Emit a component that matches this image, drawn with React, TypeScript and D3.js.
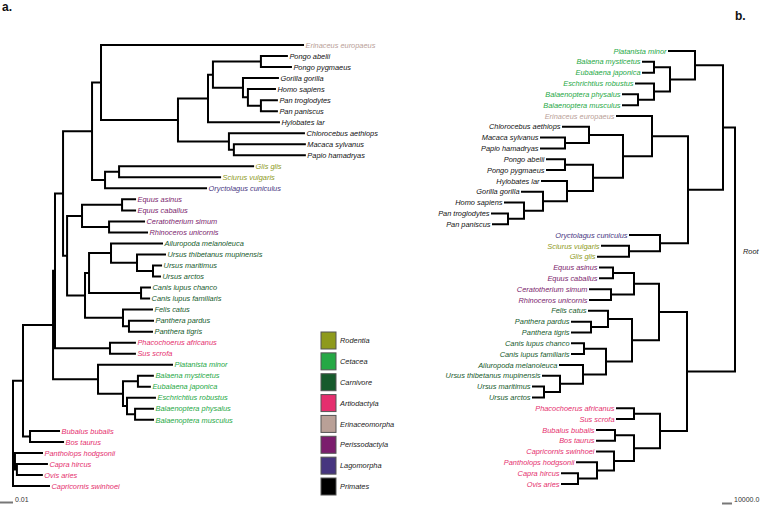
import React from "react";
import * as d3 from "d3";

// ---------- DATA ----------
// Left tree (a): maximum-likelihood branch lengths (substitutions/site)
const L_PRIMATES =
  "((((Pongo abelii:0.0200,Pongo pygmaeus:0.0231):0.0369,(Gorilla gorilla:0.0269,(Homo sapiens:0.0208,(Pan troglodytes:0.0123,Pan paniscus:0.0123):0.0100):0.0038):0.0231):0.0038,Hylobates lar:0.0546):0.0231,(Chlorocebus aethiops:0.0577,(Macaca sylvanus:0.0546,Papio hamadryas:0.0546):0.0038):0.0392)";
const L_EUARCH =
  "((Erinaceus europaeus:0.1554," + L_PRIMATES + ":0.0592):0.0069,((Glis glis:0.1031,Sciurus vulgaris:0.0777):0.0108,Oryctolagus cuniculus:0.0777):0.0100)";
const L_LAUR =
  "(((Equus asinus:0.0100,Equus caballus:0.0100):0.0308,(Ceratotherium simum:0.0269,Rhinoceros unicornis:0.0292):0.0208):0.0115,(((Ailuropoda melanoleuca:0.0392,(Ursus thibetanus mupinensis:0.0215,(Ursus maritimus:0.0062,Ursus arctos:0.0054):0.0123):0.0200):0.0169,(Canis lupus chanco:0.0069,Canis lupus familiaris:0.0062):0.0400):0.0031,(Felis catus:0.0223,(Panthera pardus:0.0185,Panthera tigris:0.0177):0.0046):0.0292):0.0138)";
const L_SUIDAE = "(Phacochoerus africanus:0.0192,Sus scrofa:0.0192)";
const L_CETACEA =
  "(Platanista minor:0.0569,((Balaena mysticetus:0.0115,Eubalaena japonica:0.0092):0.0115,(Eschrichtius robustus:0.0215,(Balaenoptera physalus:0.0138,Balaenoptera musculus:0.0138):0.0062):0.0031):0.0192)";
const L_BOVINI = "(Bubalus bubalis:0.0223,Bos taurus:0.0254)";
const L_N63 = "(" + L_EUARCH + ":0.0223," + L_LAUR + ":0.0031)";
const L_P = "(" + L_N63 + ":0.0062," + L_SUIDAE + ":0.0423)";
const L_Q = "(" + L_P + ":0.0015," + L_CETACEA + ":0.0346)";
const L_N23 = "(" + L_Q + ":0.0231," + L_BOVINI + ":0.0054)";
const LEFT_NEWICK =
  "(" + L_N23 + ":0.0077,(Pantholops hodgsonii:0.0208,(Capra hircus:0.0231,Ovis aries:0.0192):0.0015):0.0015,Capricornis swinhoei:0.0277);";

// Right tree (b): time-scaled branch lengths
const R_CETACEA =
  "(Platanista minor:26000,((Balaena mysticetus:11000,Eubalaena japonica:11000):16000,(Eschrichtius robustus:18000,(Balaenoptera physalus:15000,Balaenoptera musculus:15000):16000):16000):25000)";
const R_PRIMATES =
  "((Chlorocebus aethiops:26000,(Macaca sylvanus:24000,Papio hamadryas:24000):24000):34000,((Pongo abelii:18000,Pongo pygmaeus:18000):28000,(Hylobates lar:25000,(Gorilla gorilla:21000,(Homo sapiens:19000,(Pan troglodytes:16000,Pan paniscus:15000):16000):19000):24000):26000):30000)";
const R_EUARCH =
  "((Erinaceus europaeus:35000," + R_PRIMATES + ":29000):36000,(Oryctolagus cuniculus:30000,(Sciurus vulgaris:27000,Glis glis:31000):31000):28000)";
const R_PERISSO =
  "((Equus asinus:13000,Equus caballus:13000):21000,(Ceratotherium simum:21000,Rhinoceros unicornis:21000):23000)";
const R_CARNIVORA =
  "((Felis catus:19000,(Panthera pardus:19000,Panthera tigris:19000):17000):24000,((Canis lupus chanco:12000,Canis lupus familiaris:12000):22000,(Ailuropoda melanoleuca:23000,(Ursus thibetanus mupinensis:17000,(Ursus maritimus:11000,Ursus arctos:11000):16000):23000):23000):26000)";
const R_ARTIO =
  "((Phacochoerus africanus:17000,Sus scrofa:17000):26000,((Bubalus bubalis:18000,Bos taurus:18000):19000,(Capricornis swinhoei:17000,(Pantholops hodgsonii:20000,(Capra hircus:16000,Ovis aries:16000):19000):17000):20000):26000)";
const RIGHT_NEWICK =
  "((" + R_CETACEA + ":28000," + R_EUARCH + ":35000):12000,((" + R_PERISSO + ":25000," + R_CARNIVORA + ":27000):28000," + R_ARTIO + ":27000):48000);";

// Orders and colours
const LEGEND_ORDERS = ["Rodentia", "Cetacea", "Carnivore", "Artiodactyla", "Erinaceomorpha", "Perissodactyla", "Lagomorpha", "Primates"];
const LEGEND_COLORS = ["#8e9a1c", "#25a845", "#165a2c", "#e52f6e", "#b9a097", "#7b1d6d", "#46357f", "#000000"];
const RODENTIA = ["Glis glis", "Sciurus vulgaris"];
const CETACEA = ["Platanista minor", "Balaena mysticetus", "Eubalaena japonica", "Eschrichtius robustus", "Balaenoptera physalus", "Balaenoptera musculus"];
const CARNIVORE = ["Ailuropoda melanoleuca", "Ursus thibetanus mupinensis", "Ursus maritimus", "Ursus arctos", "Canis lupus chanco", "Canis lupus familiaris", "Felis catus", "Panthera pardus", "Panthera tigris"];
const ARTIODACTYLA = ["Phacochoerus africanus", "Sus scrofa", "Bubalus bubalis", "Bos taurus", "Pantholops hodgsonii", "Capra hircus", "Ovis aries", "Capricornis swinhoei"];
const ERINACEOMORPHA = ["Erinaceus europaeus"];
const PERISSODACTYLA = ["Equus asinus", "Equus caballus", "Ceratotherium simum", "Rhinoceros unicornis"];
const LAGOMORPHA = ["Oryctolagus cuniculus"];
const ORDER_MEMBERS = [RODENTIA, CETACEA, CARNIVORE, ARTIODACTYLA, ERINACEOMORPHA, PERISSODACTYLA, LAGOMORPHA];

const SCALE_LEFT = [0.01];
const SCALE_RIGHT = [10000];

// ---------- helpers ----------
type NNode = { name: string; length: number; children?: NNode[] };

function parseNewick(s: string): NNode {
  let i = 0;
  function node(): NNode {
    const n: NNode = { name: "", length: 0 };
    if (s[i] === "(") {
      i++;
      n.children = [node()];
      while (s[i] === ",") {
        i++;
        n.children.push(node());
      }
      i++;
    }
    let name = "";
    while (i < s.length && !":,();".includes(s[i])) name += s[i++];
    n.name = name.trim();
    if (s[i] === ":") {
      i++;
      let num = "";
      while (i < s.length && !",();".includes(s[i])) num += s[i++];
      n.length = parseFloat(num);
    }
    return n;
  }
  return node();
}

function colorOf(name: string) {
  for (let k = 0; k < ORDER_MEMBERS.length; k++) if (ORDER_MEMBERS[k].includes(name)) return LEGEND_COLORS[k];
  return "#111";
}

function layout(newick: string, yRange: [number, number], xScale: (v: number) => number) {
  const root: any = d3.hierarchy(parseNewick(newick));
  root.eachBefore((d: any) => {
    d.dist = d.parent ? d.parent.dist + d.data.length : 0;
  });
  const leaves = root.leaves();
  const y = d3.scaleLinear().domain([0, leaves.length - 1]).range(yRange);
  leaves.forEach((l: any, i: number) => (l.py = y(i)));
  root.eachAfter((d: any) => {
    if (d.children) d.py = (d.children[0].py + d.children[d.children.length - 1].py) / 2;
  });
  root.each((d: any) => (d.px = xScale(d.dist)));
  return root;
}

function treePath(root: any) {
  const p = d3.path();
  root.each((d: any) => {
    if (d.parent) {
      p.moveTo(d.parent.px, d.py);
      p.lineTo(d.px, d.py);
    }
    if (d.children) {
      p.moveTo(d.px, d.children[0].py);
      p.lineTo(d.px, d.children[d.children.length - 1].py);
    }
  });
  return p.toString();
}

const FONT = "'Liberation Sans', Arial, sans-serif";
const FS = 7.4;

export default function App() {
  const xL = d3.scaleLinear().domain([0, 0.01]).range([13, 26]);
  const xR = d3.scaleLinear().domain([0, 10000]).range([735, 725]);
  const left = layout(LEFT_NEWICK, [45, 486], xL);
  const right = layout(RIGHT_NEWICK, [51, 484], xR);
  const legendY = d3.scalePoint<string>().domain(LEGEND_ORDERS).range([340.5, 486.5]);

  return (
    <svg
      width={760}
      height={506}
      style={{ position: "absolute", left: 0, top: 0, background: "#fff" }}
      fontFamily={FONT}
    >
      <rect x={0} y={0} width={760} height={506} fill="#fff" />
      <text x={2} y={11} fontSize={12} fontWeight="bold" fill="#111">a.</text>
      <text x={735} y={20} fontSize={12} fontWeight="bold" fill="#111">b.</text>

      {/* left tree */}
      <path d={treePath(left)} fill="none" stroke="#000" strokeWidth={2} strokeLinecap="square" />
      {left.leaves().map((l: any) => (
        <text key={"L" + l.data.name} x={l.px + 2.5} y={l.py} dy="0.36em" fontSize={FS} fontStyle="italic" fill={colorOf(l.data.name)}>
          {l.data.name}
        </text>
      ))}

      {/* right tree */}
      <path d={treePath(right)} fill="none" stroke="#000" strokeWidth={2} strokeLinecap="square" />
      {right.leaves().map((l: any) => (
        <text key={"R" + l.data.name} x={l.px - 2.5} y={l.py} dy="0.36em" textAnchor="end" fontSize={FS} fontStyle="italic" fill={colorOf(l.data.name)}>
          {l.data.name}
        </text>
      ))}
      <text x={743} y={right.py + 5} fontSize={FS} fontStyle="italic" fill="#222">Root</text>

      {/* legend */}
      {LEGEND_ORDERS.map((o, i) => (
        <g key={o} transform={`translate(321,${legendY(o)})`}>
          <rect x={0} y={-8.5} width={15} height={17} fill={LEGEND_COLORS[i]} stroke="#555" strokeWidth={1} />
          <text x={19} y={0} dy="0.36em" fontSize={FS} fontStyle="italic" fill="#222">{o}</text>
        </g>
      ))}

      {/* scale bars */}
      <line x1={xL(0) - (xL(SCALE_LEFT[0]) - xL(0))} x2={xL(0)} y1={502.5} y2={502.5} stroke="#777" strokeWidth={2} />
      <text x={15} y={502} fontSize={7} fill="#333">{SCALE_LEFT[0].toFixed(2)}</text>
      <line x1={xR(SCALE_RIGHT[0]) - 3} x2={xR(0) - 3} y1={503.5} y2={503.5} stroke="#777" strokeWidth={2} />
      <text x={734} y={502} fontSize={7} fill="#333">{SCALE_RIGHT[0].toFixed(1)}</text>
    </svg>
  );
}
